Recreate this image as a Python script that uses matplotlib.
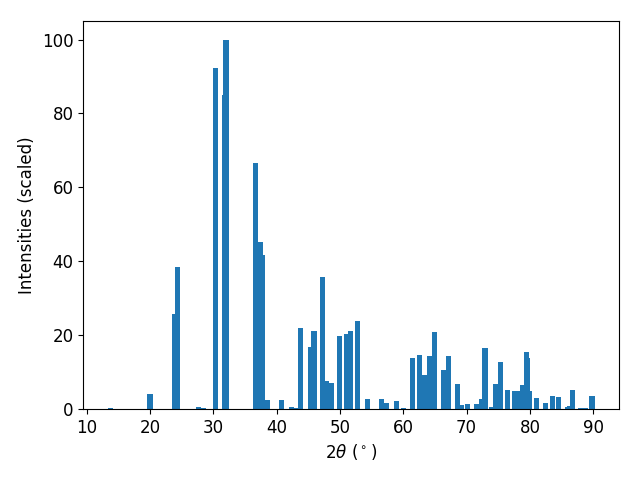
import matplotlib
matplotlib.use('Agg')
import matplotlib.pyplot as plt

# peak positions (2theta, deg)
two_theta = [13.7, 20.0, 23.8, 24.4, 27.7, 28.5, 30.4, 31.8, 32.0,
             36.7, 37.5, 37.8, 38.6, 40.7, 42.3, 43.2, 43.8, 45.3, 45.9,
             47.2, 47.9, 48.7, 50.0, 51.0, 51.7, 52.7, 54.4, 56.6, 57.4,
             59.0, 60.1, 61.4, 62.5, 63.4, 64.1, 64.9, 66.4, 67.2, 68.6,
             69.2, 70.2, 71.6, 72.4, 72.9, 73.9, 74.6, 75.3, 76.4, 77.5,
             78.1, 78.9, 79.4, 79.6, 80.0, 81.1, 82.4, 83.5, 84.5, 85.9,
             86.3, 86.7, 88.0, 88.8, 89.8]

# scaled intensities
intensity = [0.3, 4.0, 25.8, 38.5, 0.5, 0.3, 92.2, 85.0, 100.0,
             66.7, 45.3, 41.8, 2.4, 2.4, 0.5, 0.3, 22.0, 16.8, 21.2,
             35.6, 7.6, 7.0, 19.8, 20.4, 21.1, 23.9, 2.7, 2.7, 1.6,
             2.2, 0.3, 13.8, 14.6, 9.2, 14.4, 20.9, 10.6, 14.4, 6.8,
             1.1, 1.4, 1.4, 2.7, 16.6, 0.5, 6.8, 12.8, 5.2, 4.9,
             4.9, 6.5, 15.5, 13.8, 4.9, 3.0, 1.6, 3.5, 3.3, 0.5,
             0.8, 5.2, 0.3, 0.3, 3.5]

plt.rcParams['font.size'] = 12

fig, ax = plt.subplots(figsize=(6.4, 4.8), dpi=100)
ax.bar(two_theta, intensity, color='#1f77b4')
ax.set_xlabel(r'2$\theta$ ($^\circ$)')
ax.set_ylabel('Intensities (scaled)')
fig.subplots_adjust(left=0.13, right=0.967, top=0.956, bottom=0.148)
fig.savefig('out.png')
